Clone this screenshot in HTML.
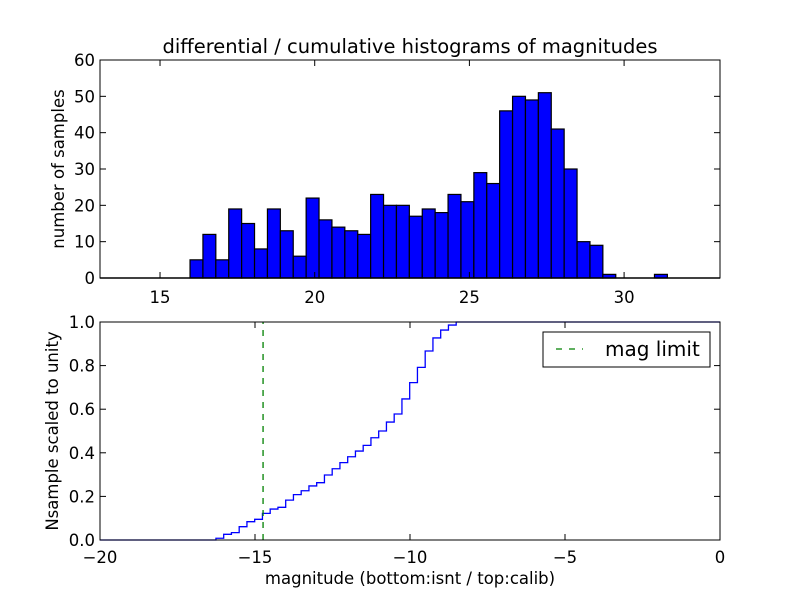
<!DOCTYPE html>
<html><head><meta charset="utf-8"><style>
body{margin:0;background:#fff}
svg text{font-family:"DejaVu Sans","Liberation Sans",sans-serif;fill:#000}
</style></head><body>
<svg id="c" width="800" height="600" xmlns="http://www.w3.org/2000/svg">
<rect width="800" height="600" fill="#fff"/>
<text x="410" y="53" font-size="19.5" text-anchor="middle">differential / cumulative histograms of magnitudes</text>
<g id="topAx"></g>
<g id="botAx"></g>
<text x="64" y="169" font-size="16.5" text-anchor="middle" transform="rotate(-90 64 169)">number of samples</text>
<text x="58" y="431" font-size="16.5" text-anchor="middle" transform="rotate(-90 58 431)">Nsample scaled to unity</text>
<text x="410" y="584" font-size="16.5" text-anchor="middle">magnitude (bottom:isnt / top:calib)</text>
</svg>
<script>
const binStart = 15.97;
const binWidth = 0.417;
const counts = [5,12,5,19,15,8,19,13,6,22,16,14,13,12,23,20,20,17,19,18,23,21,29,26,46,50,49,51,41,30,10,9,1,0,0,0,1];
const topXTicks = [15,20,25,30];
const topYTicks = [0,10,20,30,40,50,60];
const cumStart = -16.26;
const cumStep = 0.25;
const cumValues = [0.008,0.026,0.034,0.061,0.084,0.095,0.122,0.142,0.150,0.183,0.208,0.226,0.248,0.263,0.298,0.327,0.355,0.382,0.408,0.434,0.469,0.500,0.541,0.578,0.647,0.722,0.792,0.867,0.927,0.963,0.986,1.0];
const magLimit = -14.74;
const botXTicks = [-20,-15,-10,-5,0];
const botYTicks = [0,0.2,0.4,0.6,0.8,1.0];

const NS="http://www.w3.org/2000/svg";
function mk(tag,attrs,parent){const e=document.createElementNS(NS,tag);for(const k in attrs)e.setAttribute(k,attrs[k]);parent.appendChild(e);return e;}
const L=100,R=720;
const FS=16.5;
const tx=v=>L+(v-13.06)/(33.1-13.06)*(R-L);
const ty=v=>278-v/60*218;
const topG=document.getElementById('topAx');
counts.forEach((c,i)=>{
  if(c<=0)return;
  const x0=tx(binStart+i*binWidth),x1=tx(binStart+(i+1)*binWidth);
  const r=mk('rect',{x:x0,y:ty(c),width:x1-x0,height:ty(0)-ty(c),fill:'#0000ff',stroke:'#000','stroke-width':1.2},topG);
  
  
});
const base=mk('line',{x1:L,x2:R,y1:278,y2:278,stroke:'#000','stroke-width':1.5},topG);


mk('rect',{x:L,y:60,width:R-L,height:218,fill:'none',stroke:'#000','stroke-width':1},topG);
topXTicks.forEach(v=>{
  const x=tx(v);
  mk('line',{x1:x,x2:x,y1:278,y2:272,stroke:'#000'},topG);
  mk('line',{x1:x,x2:x,y1:60,y2:66,stroke:'#000'},topG);
  const t=mk('text',{x:x,y:303,'font-size':FS,'text-anchor':'middle'},topG);t.textContent=v;
  
  
});
topYTicks.forEach(v=>{
  const y=ty(v);
  mk('line',{x1:L,x2:L+6,y1:y,y2:y,stroke:'#000'},topG);
  mk('line',{x1:R,x2:R-6,y1:y,y2:y,stroke:'#000'},topG);
  const t=mk('text',{x:L-5,y:y+6,'font-size':FS,'text-anchor':'end'},topG);t.textContent=v;
  
  
});
const bx=v=>L+(v+20)/20*(R-L);
const by=v=>540-v*218;
const botG=document.getElementById('botAx');
let d='M'+bx(-20)+','+by(0)+' L'+bx(cumStart)+','+by(0);
cumValues.forEach((v,i)=>{const x0=bx(cumStart+i*cumStep),x1=bx(cumStart+(i+1)*cumStep);d+=' L'+x0+','+by(v)+' L'+x1+','+by(v);});
d+=' L'+R+','+by(1);
const p=mk('path',{d:d,fill:'none',stroke:'#0000ff','stroke-width':1.3},botG);


const ml=mk('line',{x1:bx(magLimit),x2:bx(magLimit),y1:by(0),y2:by(1),stroke:'#008000','stroke-width':1.3,'stroke-dasharray':'6,6'},botG);


mk('rect',{x:L,y:322,width:R-L,height:218,fill:'none',stroke:'#000','stroke-width':1},botG);
botXTicks.forEach(v=>{
  const x=bx(v);
  mk('line',{x1:x,x2:x,y1:540,y2:534,stroke:'#000'},botG);
  mk('line',{x1:x,x2:x,y1:322,y2:328,stroke:'#000'},botG);
  const t=mk('text',{x:x,y:563,'font-size':FS,'text-anchor':'middle'},botG);t.textContent=(v<0?'\u2212'+(-v):v);
  
  
});
botYTicks.forEach(v=>{
  const y=by(v);
  mk('line',{x1:L,x2:L+6,y1:y,y2:y,stroke:'#000'},botG);
  mk('line',{x1:R,x2:R-6,y1:y,y2:y,stroke:'#000'},botG);
  const t=mk('text',{x:L-5,y:y+6,'font-size':FS,'text-anchor':'end'},botG);t.textContent=v.toFixed(1);
  
  
});
const lg=mk('g',{},botG);


mk('rect',{x:543,y:332,width:167,height:35,fill:'#fff',stroke:'#000','stroke-width':1},lg);
mk('line',{x1:556,x2:583,y1:349,y2:349,stroke:'#008000','stroke-width':1.3,'stroke-dasharray':'6,7'},lg);
const lt=mk('text',{x:605,y:356,'font-size':20},lg);lt.textContent='mag limit';


</script>
</body></html>
